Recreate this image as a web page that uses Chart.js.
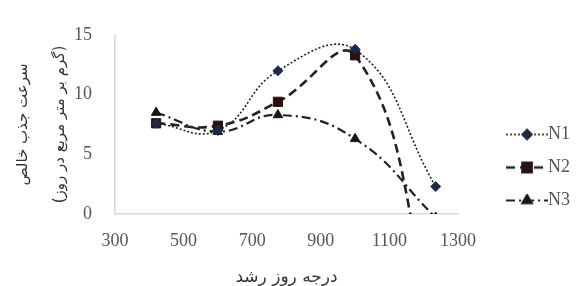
<!DOCTYPE html>
<html>
<head>
<meta charset="utf-8">
<style>
  html, body { margin: 0; padding: 0; background: #fff; }
  #wrap { width: 580px; height: 286px; }
</style>
<script src="https://cdn.jsdelivr.net/npm/chart.js@4.4.0/dist/chart.umd.min.js"></script>
</head>
<body>
<div id="wrap"><canvas id="narChart" width="580" height="286"></canvas></div>
<script>
const degreeDays = [420, 600, 775, 1000, 1235];
const n1 = [7.6, 7.0, 12.0, 13.8, 2.3];
const n2 = [7.6, 7.4, 9.4, 13.3, -9];
const n3 = [8.5, 6.9, 8.3, 6.3, -0.3];
const seriesNames = ["N1", "N2", "N3"];
const yTitle = ["سرعت جذب خالص", "(گرم بر متر مربع در روز)"];
const xTitle = "درجه روز رشد";

const styles = [
  { dash: [2, 2], width: 1.6, marker: "rectRot", radius: 5, color: "#1c2a4a" },
  { dash: [9, 5], width: 2.6, marker: "rect", radius: 6.5, color: "#2a1010" },
  { dash: [9, 4, 2, 4], width: 2.2, marker: "triangle", radius: 5.5, color: "#141a0c" }
];

function toPoints(values) {
  return degreeDays.map((x, i) => ({ x, y: values[i] }));
}

// legend picture: blank left half, then a line piece with the marker in the middle
function legendSample(s) {
  const c = document.createElement("canvas");
  c.width = 84; c.height = 14;
  const g = c.getContext("2d");
  g.strokeStyle = "#222";
  g.lineWidth = s.width;
  g.setLineDash(s.dash);
  g.beginPath();
  g.moveTo(42, 7); g.lineTo(84, 7);
  g.stroke();
  g.setLineDash([]);
  Chart.helpers.drawPoint(g, { pointStyle: s.marker, radius: s.radius, borderWidth: 1 }, 63, 7);
  g.fillStyle = s.color;
  g.fill();
  return c;
}

const ctx = document.getElementById("narChart").getContext("2d");
const samples = styles.map(legendSample);

new Chart(ctx, {
  type: "line",
  data: {
    datasets: [n1, n2, n3].map((vals, i) => ({
      label: seriesNames[i],
      data: toPoints(vals),
      borderColor: "#222",
      borderWidth: styles[i].width,
      borderDash: styles[i].dash,
      pointStyle: styles[i].marker,
      pointRadius: styles[i].radius,
      pointBackgroundColor: styles[i].color,
      pointBorderColor: styles[i].color,
      pointBorderWidth: 1,
      tension: 0.45,
      fill: false
    }))
  },
  options: {
    responsive: false,
    animation: false,
    layout: { padding: { top: 35, right: 0, bottom: 0, left: 4 } },
    plugins: {
      tooltip: { enabled: false },
      legend: {
        position: "right",
        align: "center",
        title: { display: true, text: " ", font: { size: 10, lineHeight: 1.2 }, padding: 1 },
        labels: {
          usePointStyle: true,
          pointStyleWidth: 66,
          padding: 15,
          color: "#555",
          font: { family: "Liberation Serif", size: 18 },
          generateLabels(chart) {
            return Chart.defaults.plugins.legend.labels.generateLabels(chart)
              .map((item, i) => ({ ...item, pointStyle: samples[i] }));
          }
        }
      }
    },
    scales: {
      x: {
        type: "linear",
        min: 300,
        max: 1300,
        afterFit(scale) { scale.height = 72; },
        grid: { display: false },
        border: { color: "#d9d9d9", width: 1.5 },
        ticks: {
          stepSize: 200,
          color: "#555",
          padding: 8,
          font: { family: "Liberation Serif", size: 18 },
          callback: v => String(v)
        },
        title: {
          display: true,
          text: xTitle,
          color: "#333",
          font: { family: "DejaVu Sans", size: 17, lineHeight: 1 },
          padding: { top: 0, bottom: 0 }
        }
      },
      y: {
        min: 0,
        max: 15,
        afterFit(scale) { scale.width = 111; },
        grid: { display: false },
        border: { color: "#d9d9d9", width: 1.5 },
        ticks: {
          stepSize: 5,
          color: "#555",
          padding: 15,
          font: { family: "Liberation Serif", size: 18 }
        },
        title: {
          display: true,
          text: yTitle,
          color: "#333",
          font: { family: "DejaVu Sans", size: 15, lineHeight: 2.5 },
          padding: { top: 0, bottom: 0 }
        }
      }
    }
  }
});
</script>
</body>
</html>
